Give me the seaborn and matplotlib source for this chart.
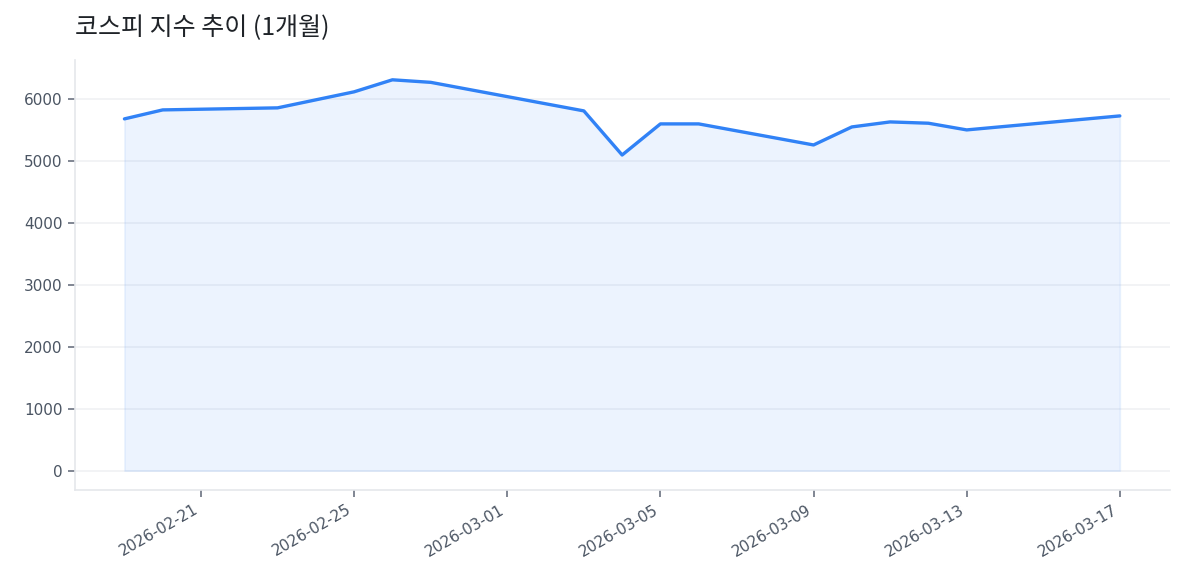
import matplotlib
import matplotlib.pyplot as plt
import matplotlib.dates as mdates
import pandas as pd
import seaborn as sns

matplotlib.use("Agg")

dates = [
    "2026-02-19", "2026-02-20", "2026-02-23", "2026-02-25", "2026-02-26",
    "2026-02-27", "2026-03-03", "2026-03-04", "2026-03-05", "2026-03-06",
    "2026-03-09", "2026-03-10", "2026-03-11", "2026-03-12", "2026-03-13",
    "2026-03-17",
]
kospi = [
    5680, 5825, 5858, 6117, 6311,
    6270, 5809, 5097, 5599, 5599,
    5259, 5550, 5631, 5610, 5502,
    5728,
]
tick_dates = [
    "2026-02-21", "2026-02-25", "2026-03-01", "2026-03-05",
    "2026-03-09", "2026-03-13", "2026-03-17",
]
title = "코스피 지수 추이 (1개월)"

df = pd.DataFrame({"date": pd.to_datetime(dates), "close": kospi})

sns.set_theme(style="white")
plt.rcParams["font.family"] = ["Noto Sans CJK KR", "DejaVu Sans"]

line_color = "#3182f6"
text_color = "#4b5563"
spine_color = "#e5e7eb"

fig, ax = plt.subplots(figsize=(11.85, 5.85), dpi=100)

ax.fill_between(df["date"], df["close"], 0, color=line_color, alpha=0.09,
                linewidth=1.2, edgecolor=(0.19, 0.51, 0.96, 0.08))
sns.lineplot(data=df, x="date", y="close", ax=ax, color=line_color, linewidth=2.4)

ax.set_xticks(pd.to_datetime(tick_dates))
ax.xaxis.set_major_formatter(mdates.DateFormatter("%Y-%m-%d"))

ax.set_xlabel("")
ax.set_ylabel("")
ax.set_title(title, loc="left", fontsize=18, color="#1f2328", pad=18)

ax.grid(axis="y", color="#f0f1f3", linewidth=1.2)
ax.set_axisbelow(True)
for side in ("top", "right"):
    ax.spines[side].set_visible(False)
for side in ("left", "bottom"):
    ax.spines[side].set_color(spine_color)
    ax.spines[side].set_linewidth(1.2)

ax.tick_params(axis="both", labelcolor=text_color, color="#6b7280", labelsize=11,
               length=5, width=1.2, direction="out", bottom=True, left=True,
               labelfontfamily="DejaVu Sans")
ax.tick_params(axis="x", labelrotation=30)
plt.setp(ax.get_xticklabels(), ha="right", rotation_mode="default")

fig.subplots_adjust(left=0.063, right=0.987, top=0.897, bottom=0.162)
fig.savefig("out.png", dpi=100)
plt.close(fig)
